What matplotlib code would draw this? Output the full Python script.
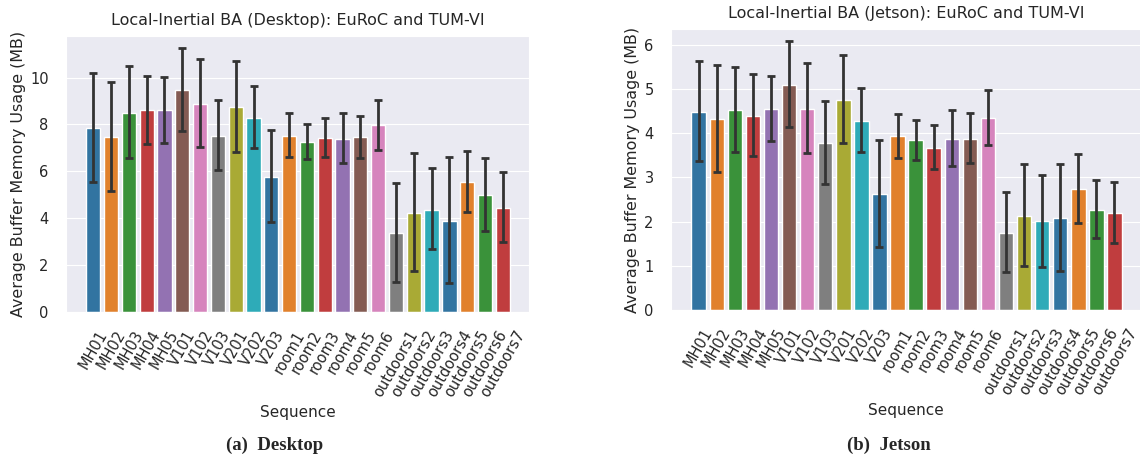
import matplotlib
matplotlib.use("Agg")
import matplotlib.pyplot as plt
import seaborn as sns
import numpy as np

sequences = ["MH01", "MH02", "MH03", "MH04", "MH05", "V101", "V102", "V103",
             "V201", "V202", "V203", "room1", "room2", "room3", "room4", "room5",
             "room6", "outdoors1", "outdoors2", "outdoors3", "outdoors4",
             "outdoors5", "outdoors6", "outdoors7"]

desktop_mean = [7.83, 7.48, 8.50, 8.60, 8.61, 9.45, 8.88, 7.51, 8.74, 8.29, 5.77,
                7.51, 7.24, 7.41, 7.39, 7.45, 7.96, 3.37, 4.24, 4.35, 3.88, 5.54,
                4.99, 4.43]
desktop_low = [5.53, 5.17, 6.55, 7.16, 7.21, 7.72, 7.02, 6.06, 6.82, 7.01, 3.82,
               6.61, 6.51, 6.61, 6.35, 6.57, 6.92, 1.28, 1.75, 2.67, 1.24, 4.26,
               3.45, 2.97]
desktop_high = [10.20, 9.82, 10.50, 10.06, 10.04, 11.24, 10.77, 9.03, 10.70, 9.64,
                7.76, 8.47, 8.02, 8.26, 8.47, 8.37, 9.05, 5.49, 6.78, 6.13, 6.61,
                6.87, 6.55, 5.97]

jetson_mean = [4.48, 4.32, 4.52, 4.39, 4.54, 5.09, 4.55, 3.77, 4.76, 4.28, 2.62,
               3.93, 3.84, 3.67, 3.88, 3.88, 4.34, 1.75, 2.13, 2.01, 2.08, 2.74,
               2.27, 2.19]
jetson_low = [3.38, 3.13, 3.57, 3.48, 3.82, 4.15, 3.56, 2.86, 3.77, 3.57, 1.43,
              3.45, 3.40, 3.19, 3.27, 3.33, 3.74, 0.86, 0.99, 0.98, 0.88, 1.98,
              1.62, 1.52]
jetson_high = [5.63, 5.54, 5.49, 5.35, 5.30, 6.08, 5.58, 4.72, 5.78, 5.02, 3.85,
               4.44, 4.31, 4.19, 4.52, 4.47, 4.98, 2.66, 3.30, 3.05, 3.31, 3.53,
               2.95, 2.90]

titles = ["Local-Inertial BA (Desktop): EuRoC and TUM-VI",
          "Local-Inertial BA (Jetson): EuRoC and TUM-VI"]
captions = ["(a)  Desktop", "(b)  Jetson"]
ylabel = "Average Buffer Memory Usage (MB)"
xlabel = "Sequence"

sns.set_style("darkgrid")
plt.rcParams['font.family'] = ['DejaVu Sans']

palette = sns.color_palette("tab10", 10, desat=0.75)
colors = [palette[i % 10] for i in range(len(sequences))]

fig = plt.figure(figsize=(11.4, 4.54), dpi=100)
ax1 = fig.add_axes([66 / 1140, 1 - 312 / 454, 463 / 1140, 276 / 454])
ax2 = fig.add_axes([671 / 1140, 1 - 310 / 454, 470 / 1140, 281 / 454])

specs = [
    (ax1, desktop_mean, desktop_low, desktop_high, (0, 11.77), [0, 2, 4, 6, 8, 10]),
    (ax2, jetson_mean, jetson_low, jetson_high, (0, 6.36), [0, 1, 2, 3, 4, 5, 6]),
]

for k, (ax, mean, low, high, ylim, yt) in enumerate(specs):
    x = np.arange(len(sequences))
    m = np.array(mean)
    yerr = [m - np.array(low), np.array(high) - m]
    ax.bar(x, m, width=0.8, color=colors, edgecolor="white", linewidth=1.0, zorder=2)
    ax.errorbar(x, m, yerr=yerr, fmt="none", ecolor=".2", elinewidth=2.0,
                capsize=3.0, capthick=2.0, zorder=3)
    ax.set_xlim(-1.53, 24.47)
    ax.set_ylim(*ylim)
    ax.set_yticks(yt)
    ax.set_xticks(x)
    ax.set_xticklabels(sequences, rotation=60, fontsize=10.5)
    ax.tick_params(axis='y', labelsize=10.5, pad=12.5, length=0)
    ax.tick_params(axis='x', pad=11.5, length=0)
    ax.grid(axis='x', visible=False)
    ax.set_title(titles[k], fontsize=11.5, pad=8)
    ax.set_ylabel(ylabel, fontsize=11.4, labelpad=3)
    ax.set_xlabel(xlabel, fontsize=11)

fig.text(275 / 1140, 1 - 445 / 454, captions[0], ha="center", va="center",
         fontsize=13.5, fontweight="bold", family=["Liberation Serif", "DejaVu Serif"])
fig.text(889 / 1140, 1 - 445 / 454, captions[1], ha="center", va="center",
         fontsize=13.5, fontweight="bold", family=["Liberation Serif", "DejaVu Serif"])

fig.savefig("out.png", dpi=100)
